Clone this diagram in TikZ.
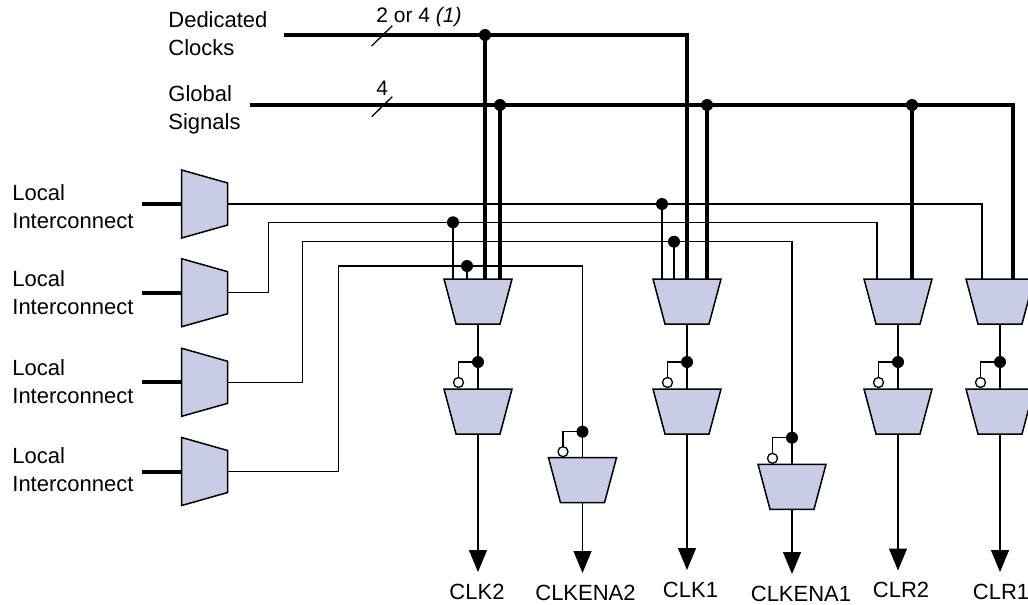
\documentclass[tikz,border=0pt]{standalone}
\usepackage{fontspec}
\setmainfont{Liberation Sans}
\usetikzlibrary{arrows.meta}
\usetikzlibrary{calc}
\definecolor{muxfill}{RGB}{200, 204, 230}

\begin{document}
\begin{tikzpicture}[x=0.5pt, y=-0.5pt,
    every node/.style={font=\fontsize{11}{14}\selectfont},
    wire/.style={line width=0.65pt},
    bus/.style={line width=2pt},
    muxline/.style={draw, fill=muxfill, line width=0.75pt, line join=miter},
    mux/.style={inner sep=0pt, outer sep=0pt, minimum width=34pt, minimum height=22.5pt,
      append after command={\pgfextra{\filldraw[muxline] (\tikzlastnode.north west)
        -- (\tikzlastnode.north east) -- ([xshift=-6pt]\tikzlastnode.south east)
        -- ([xshift=6pt]\tikzlastnode.south west) -- cycle;}}},
    lmux/.style={inner sep=0pt, outer sep=0pt, minimum width=23pt, minimum height=34pt,
      append after command={\pgfextra{\filldraw[muxline] (\tikzlastnode.north west)
        -- ([yshift=-6.5pt]\tikzlastnode.north east) -- ([yshift=6.5pt]\tikzlastnode.south east)
        -- (\tikzlastnode.south west) -- cycle;}}},
    dot/.style={circle, fill=black, inner sep=0pt, outer sep=0pt, minimum size=6pt},
    bubble/.style={circle, draw, fill=white, line width=0.65pt, inner sep=0pt,
      outer sep=0pt, minimum size=5pt},
    txt/.style={align=left, inner sep=0pt, anchor=base west},
    lbl/.style={inner sep=0pt, outer ysep=5.5pt, text height=8pt, anchor=base},
    arr/.style={wire, -{Triangle[length=11pt, width=9pt]}}]
  \useasboundingbox (0, 0) rectangle (1028, 605);

  \node[txt] (dedtxt) at (168, 55.5) {Dedicated\\Clocks};
  \node[txt] (globtxt) at (168, 129) {Global\\Signals};
  \node[txt] (ltxt1) at (12, 228) {Local\\Interconnect};
  \node[txt] (ltxt2) at (12, 314.5) {Local\\Interconnect};
  \node[txt] (ltxt3) at (12, 403.5) {Local\\Interconnect};
  \node[txt] (ltxt4) at (12, 491.7) {Local\\Interconnect};
  \node[txt, font=\fontsize{10.5}{12}\selectfont] (wded) at (376, 23) {2 or 4 \textit{(1)}};
  \node[txt, font=\fontsize{10.5}{12}\selectfont] (wglob) at (376, 95) {4};

  \node[lmux] (lm1) at (204.7, 204) {};
  \node[lmux] (lm2) at (204.7, 292.7) {};
  \node[lmux] (lm3) at (204.7, 382.3) {};
  \node[lmux] (lm4) at (204.7, 471.5) {};

  \node[mux] (mclk2) at (478, 301.5) {};
  \node[mux] (mclk1) at (687, 301.5) {};
  \node[mux] (mclr2) at (898, 301.5) {};
  \node[mux] (mclr1) at (1000, 301.5) {};
  \node[mux] (nena2) at (582.5, 480.2) {};
  \node[mux] (nena1) at (792, 486.8) {};
  \foreach \c/\x in {clk2/478, clk1/687, clr2/898, clr1/1000} {
    \node[mux] (n\c) at (\x, 411.5) {};
    \node[dot] (s\c) at (\x, 362) {};
    \node[bubble] (b\c) at (\x-19.5, 382.5) {};
  }
  \node[dot] (sena2) at (582.5, 431.7) {};
  \node[bubble] (bena2) at (563, 451.7) {};
  \node[dot] (sena1) at (792, 437.7) {};
  \node[bubble] (bena1) at (772.5, 458.3) {};

  \node[dot] (dd) at (485, 35) {};
  \node[dot] (g1) at (500, 105) {};
  \node[dot] (g2) at (707, 105) {};
  \node[dot] (g3) at (912, 105) {};
  \node[dot] (l1) at (662, 204) {};
  \node[dot] (l2) at (453, 222.3) {};
  \node[dot] (l3) at (674, 241.7) {};
  \node[dot] (l4) at (467, 266) {};

  \node[lbl] (clk2) at (477, 599) {CLK2};
  \node[lbl] (clkena2) at (585.5, 600) {CLKENA2};
  \node[lbl] (clk1) at (690.5, 597) {CLK1};
  \node[lbl] (clkena1) at (801, 601) {CLKENA1};
  \node[lbl] (clr2) at (901, 597.5) {CLR2};
  \node[lbl] (clr1) at (1001, 599) {CLR1};

  \coordinate (dcin) at (284, 35);
  \coordinate (gsin) at (250, 105);
  \draw[bus] (dcin) -| (mclk1.north);
  \draw[bus] (dd.center) -- (dd |- mclk2.north);
  \draw[bus] (gsin) -| ($(mclr1.north)+(13, 0)$);
  \foreach \g/\m in {g1/mclk2, g2/mclk1, g3/mclr2}
    \draw[bus] (\g.center) -- (\g |- \m.north);
  \draw[wire] (371.7, 46) -- (392.3, 25.7);
  \draw[wire] (371.7, 116.7) -- (392.3, 96.7);

  \foreach \m in {lm1, lm2, lm3, lm4}
    \draw[bus] (\m.west) -- ++(-40, 0);
  \draw[wire] (lm1.east) -| ($(mclr1.north)+(-18, 0)$);
  \draw[wire] (lm2.east) -- ++(40.5, 0) |- (l2.center) -| ($(mclr2.north)+(-21, 0)$);
  \draw[wire] (lm3.east) -- ++(75, 0) |- (l3.center) -| (nena1.north);
  \draw[wire] (lm4.east) -- ++(110.5, 0) |- (l4.center) -| (nena2.north);
  \foreach \l/\m in {l1/mclk1, l2/mclk2, l3/mclk1, l4/mclk2}
    \draw[wire] (\l.center) -- (\l |- \m.north);

  \foreach \c/\o in {clk2/clk2, clk1/clk1, clr2/clr2, clr1/clr1} {
    \draw[wire] (m\c.south) -- (n\c.north);
    \draw[wire] (s\c.center) -| (b\c.north);
    \draw[arr] (n\c.south) -- (n\c.south |- \o.north);
  }
  \draw[wire] (sena2.center) -| (bena2.north);
  \draw[wire] (sena1.center) -| (bena1.north);
  \draw[arr] (nena2.south) -- (nena2.south |- clkena2.north);
  \draw[arr] (nena1.south) -- (nena1.south |- clkena1.north);
\end{tikzpicture}
\end{document}
